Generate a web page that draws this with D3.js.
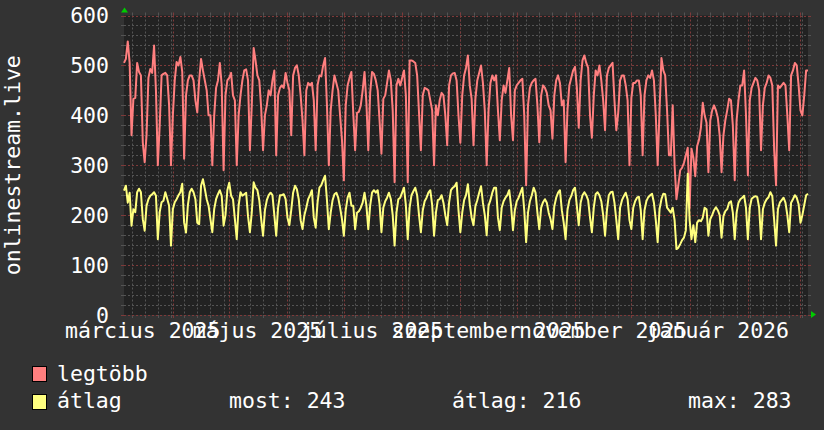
<!DOCTYPE html>
<html>
<head>
<meta charset="utf-8">
<script src="https://cdn.jsdelivr.net/npm/d3@7"></script>
<style>
  body { margin: 0; background: #333333; }
  svg text { font-family: "DejaVu Sans Mono", monospace; font-size: 21.5px; fill: #ffffff; }
</style>
</head>
<body>
<svg id="chart" width="824" height="430"></svg>
<script>
// data: one value per day, starting 2025-03-06
var startDate = new Date(2025, 2, 6)

// legtöbb (max)
var legtobb = [
  505,513,548,505,360,433,435,505,487,480, 346,306,360,475,493,485,540,450,300,380,
  480,483,485,480,420,300,400,470,507,500, 517,487,313,440,470,480,480,470,430,406,
  470,513,490,470,450,400,400,300,400,455, 470,505,460,290,440,470,475,485,440,430,
  300,
  400,440,470,490,492,470,330,420,535,510, 480,470,415,330,400,420,450,440,470,490,
  320,440,455,460,455,485,465,450,360,480, 495,500,480,440,390,320,450,465,460,465,
  430,330,460,480,478,500,515,420,300,410, 450,480,465,450,400,350,270,420,460,475,
  487,405,330,405,407,420,450,487,425,330, 445,487,483,470,450,390,323,433,440,465,
  490,470,410,266,460,473,460,475,490,440, 266,510,510,508,505,480,405,330,440,455,
  453,450,430,410,300,420,400,430,445,440, 400,340,460,480,484,485,470,400,345,440,
  480,
  495,520,460,433,340,433,470,485,500,465, 410,300,410,465,480,470,480,410,350,430,
  460,445,470,495,400,350,450,460,465,470, 473,400,260,420,455,465,470,473,420,346,
  440,460,455,445,420,410,353,440,470,480, 465,420,430,306,410,460,475,490,497,455,
  375,
  470,510,520,505,495,400,355,440,490,480, 500,470,430,370,480,495,500,505,430,370,
  405,470,480,480,460,430,300,435,465,465, 470,470,440,320,440,470,480,475,490,470,
  400,300,410,515,490,480,410,320,320,420, 300,232,260,290,295,305,320,335,
  215,333,315,278,338,351,375,425,400,385, 286,390,410,420,410,395,360,286,360,390,
  410,433,430,380,270,390,430,460,460,490, 400,280,430,455,465,475,470,450,330,420,
  455,465,480,475,460,330,260,460,455,460, 465,460,400,330,480,490,505,500,460,410,
  400,440,490,490
]

// átlag (average)
var atlag = [
  249,259,225,245,179,212,206,246,253,246, 192,169,219,232,239,242,246,239,152,206,
  226,229,246,233,219,139,212,226,232,240, 246,263,185,165,220,246,253,246,232,185,
  182,259,272,253,232,219,192,166,212,232, 242,250,239,179,200,250,265,239,232,192,
  152,
  219,246,239,242,245,198,166,205,266,255, 250,230,192,159,210,230,240,245,240,200,
  159,215,240,240,242,232,195,180,210,245, 259,252,232,190,172,200,215,232,240,250,
  195,175,225,255,260,270,279,230,172,205, 230,242,245,235,215,192,159,210,235,245,
  219,219,172,205,208,215,225,245,219,172, 219,245,250,245,250,222,166,215,228,235,
  245,232,200,139,205,232,235,245,255,220, 152,215,240,248,255,240,200,166,210,228,
  235,245,250,220,159,205,230,232,240,225, 200,180,225,250,255,258,265,210,166,205,
  230,
  240,262,222,195,180,218,230,245,258,225, 200,160,219,230,245,255,255,195,170,215,
  228,235,240,250,218,170,210,228,235,245, 255,210,146,205,228,240,255,245,205,172,
  215,226,232,225,205,192,172,218,235,245, 250,210,185,152,210,230,238,250,255,218,
  180,
  225,240,246,240,230,195,166,215,242,246, 240,228,200,159,210,240,246,247,225,190,
  152,215,230,238,245,232,190,172,215,228, 235,237,210,152,210,228,236,240,243,225,
  190,146,212,232,243,242,215,210,205,215, 190,132,135,142,150,155,170,283,
  190,152,180,146,185,190,188,195,215,212, 159,192,200,210,216,210,200,155,198,208,
  212,225,228,205,152,205,225,232,235,239, 215,152,215,233,236,238,236,215,152,212,
  225,232,236,246,238,190,139,212,225,230, 235,225,200,166,225,232,240,235,222,185,
  200,220,240,243
]

var yLabels = [0, 100, 200, 300, 400, 500, 600]
var xLabelMonths = [new Date(2025, 2, 1), new Date(2025, 4, 1), new Date(2025, 6, 1),
  new Date(2025, 8, 1), new Date(2025, 10, 1), new Date(2026, 0, 1)]
var xLabelNames = ['március 2025', 'május 2025', 'július 2025',
  'szeptember 2025', 'november 2025', 'január 2026']
var seriesNames = ['legtöbb', 'átlag']
var statLabels = ['most: 243', 'átlag: 216', 'max: 283']
var yTitle = 'onlinestream.live'

// configuration
var colMax = '#ff7f7f'
var colAvg = '#ffff7f'
var minorGrid = '#545454'
var majorGrid = '#7e3a3a'
var arrowColor = '#00cc00'

var dates = d3.timeDay.range(startDate, d3.timeDay.offset(startDate, legtobb.length))
var endDate = dates[dates.length - 1]

var x = d3.scaleTime().domain([startDate, endDate]).range([124, 808])
var y = d3.scaleLinear().domain([0, 600]).range([315, 15.5])

var svg = d3.select('#chart')

svg.append('rect').attr('width', 824).attr('height', 430).attr('fill', '#333333')

// canvas
svg.append('rect')
  .attr('x', x.range()[0])
  .attr('y', y.range()[1])
  .attr('width', x.range()[1] - x.range()[0])
  .attr('height', y.range()[0] - y.range()[1])
  .attr('fill', '#222222')

var grid = svg.append('g').attr('class', 'grid')

function vline(t, color) {
  var px = Math.round(x(t)) + 0.5
  grid.append('line')
    .attr('x1', px).attr('x2', px)
    .attr('y1', y.range()[1]).attr('y2', y.range()[0])
    .attr('stroke', color).attr('stroke-dasharray', '2,2')
  grid.append('line')
    .attr('x1', px).attr('x2', px)
    .attr('y1', y.range()[1] - 3).attr('y2', y.range()[1])
    .attr('stroke', color)
  grid.append('line')
    .attr('x1', px).attr('x2', px)
    .attr('y1', y.range()[0]).attr('y2', y.range()[0] + 3)
    .attr('stroke', color)
}

function hline(v, color) {
  var py = Math.round(y(v)) + 0.5
  grid.append('line')
    .attr('x1', x.range()[0]).attr('x2', x.range()[1])
    .attr('y1', py).attr('y2', py)
    .attr('stroke', color).attr('stroke-dasharray', '2,2')
  grid.append('line')
    .attr('x1', x.range()[0] - 3).attr('x2', x.range()[0])
    .attr('y1', py).attr('y2', py)
    .attr('stroke', color)
  grid.append('line')
    .attr('x1', x.range()[1]).attr('x2', x.range()[1] + 3)
    .attr('y1', py).attr('y2', py)
    .attr('stroke', color)
}

// minor grid: weeks / every 20
d3.timeMonday.range(startDate, endDate).forEach(t => vline(t, minorGrid))
d3.range(0, 601, 20).filter(v => v % 100 !== 0).forEach(v => hline(v, minorGrid))
// major grid: months / every 100
d3.timeMonth.range(startDate, endDate).forEach(t => vline(t, majorGrid))
yLabels.forEach(v => hline(v, majorGrid))

// y labels
svg.append('g')
  .selectAll('text')
  .data(yLabels)
  .enter()
  .append('text')
  .attr('x', 109)
  .attr('y', d => y(d))
  .attr('dy', '0.36em')
  .attr('text-anchor', 'end')
  .text(d => d)

// x labels (centered half a month after the month start, like rrdtool)
svg.append('g')
  .selectAll('text')
  .data(xLabelMonths)
  .enter()
  .append('text')
  .attr('x', d => x(d3.timeDay.offset(d, 15)))
  .attr('y', 338)
  .attr('text-anchor', 'middle')
  .text((d, i) => xLabelNames[i])

// vertical title
svg.append('text')
  .attr('transform', 'translate(20,' + (y.range()[0] + y.range()[1]) / 2 + ') rotate(-90)')
  .attr('text-anchor', 'middle')
  .text(yTitle)

// lines
var line = d3.line()
  .x((d, i) => x(dates[i]))
  .y(d => y(d))

svg.append('path')
  .datum(legtobb)
  .attr('d', line)
  .attr('fill', 'none')
  .attr('stroke', colMax)
  .attr('stroke-width', 2)
  .attr('stroke-linejoin', 'round')

svg.append('path')
  .datum(atlag)
  .attr('d', line)
  .attr('fill', 'none')
  .attr('stroke', colAvg)
  .attr('stroke-width', 2)
  .attr('stroke-linejoin', 'round')

// arrows
var ax = x.range()[0] + 0.5
var ay = y.range()[0] - 0.5
svg.append('path')
  .attr('d', `M${ax - 3.5},${y.range()[1] - 3}L${ax + 3.5},${y.range()[1] - 3}L${ax},${y.range()[1] - 8}Z`)
  .attr('fill', arrowColor)
svg.append('path')
  .attr('d', `M${x.range()[1] + 3},${ay - 3.5}L${x.range()[1] + 3},${ay + 3.5}L${x.range()[1] + 8},${ay}Z`)
  .attr('fill', arrowColor)

// legend
var legend = svg.append('g')
var legendColors = [colMax, colAvg]
seriesNames.forEach((name, i) => {
  legend.append('rect')
    .attr('x', 32.5)
    .attr('y', 366.5 + i * 28)
    .attr('width', 14)
    .attr('height', 15)
    .attr('fill', legendColors[i])
    .attr('stroke', '#000000')
    .attr('stroke-width', 1)
  legend.append('text')
    .attr('x', 57)
    .attr('y', 380.5 + i * 27)
    .text(name)
})
var statX = [229, 452, 688]
statLabels.forEach((s, i) => {
  legend.append('text')
    .attr('x', statX[i])
    .attr('y', 407.5)
    .text(s)
})
</script>
</body>
</html>
